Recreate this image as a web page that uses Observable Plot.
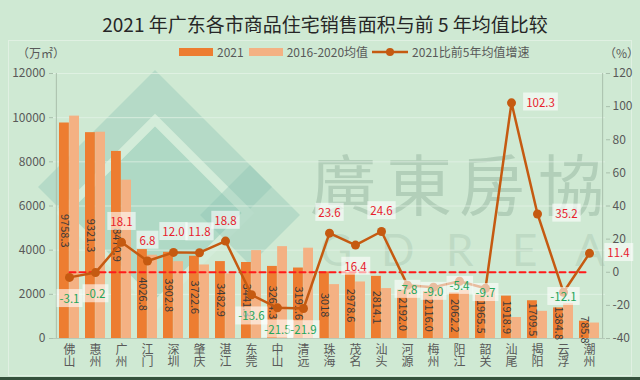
<!DOCTYPE html>
<html><head><meta charset="utf-8">
<script src="https://cdn.jsdelivr.net/npm/d3@7"></script>
<script src="https://cdn.jsdelivr.net/npm/@observablehq/plot@0.6"></script>
<style>
body{margin:0;background:#cfe9d3;font-family:"Noto Sans CJK SC","Noto Sans",sans-serif;}
#wrap{position:relative;width:640px;height:380px;overflow:hidden;background:#cfe9d3}
#wm,#chart,#panel{position:absolute;left:0;top:0}
#panel{left:8px;top:40px;width:624px;height:336px;border:1px solid rgba(255,255,255,0.35);box-sizing:border-box}
#title{position:absolute;left:0;width:650px;top:11px;text-align:center;font-size:19px;color:#262626;line-height:26px}
#legend{position:absolute;top:44px;left:179px;display:flex;align-items:center;font-size:12px;color:#595959;line-height:16px}
.sw{display:inline-block;width:34px;height:8px;margin-right:4px}
#unitL{position:absolute;left:17px;top:44px;font-size:12px;color:#595959}
#unitR{position:absolute;left:604px;top:44px;font-size:12px;color:#595959}
#bottom{position:absolute;left:0;top:377px;width:640px;height:3px;background:#35523c}
</style></head><body>
<div id="wrap">
<div id="panel"></div>
<svg id="wm" width="640" height="380">
  <polygon points="155,70 272,187 155,304 38,187" fill="#8cc2b2" fill-opacity="0.38"/>
  <polygon points="155,120 248,213 155,306 62,213" fill="#a9d8c4" fill-opacity="0.45" stroke="#d3ecd9" stroke-width="9"/>
  <polygon points="250,165 300,215 250,265 200,215" fill="#8cc2b2" fill-opacity="0.38"/>
  <text x="310 386 459 538" y="210" font-size="66" fill="#86a894" fill-opacity="0.4" font-family="Noto Sans CJK TC, Noto Sans CJK SC">廣東房協</text>
  <text x="320 381 446 512 575" y="266" font-size="44" fill="#9ab9a6" fill-opacity="0.33" font-family="Lato, DejaVu Sans">GDREA</text>
</svg>
<div id="chart"></div>
<div id="title">2021 年广东各市商品住宅销售面积与前 5 年均值比较</div>
<div id="unitL">（万㎡）</div>
<div id="unitR">（%）</div>
<div id="legend">
  <span class="sw" style="background:#ed7d31"></span><span>2021</span>
  <span class="sw" style="background:#f4b183;margin-left:5px"></span><span>2016-2020均值</span>
  <svg width="36" height="10" style="margin:0 4px"><line x1="0" y1="5" x2="36" y2="5" stroke="#c55a11" stroke-width="2.5"/><circle cx="18" cy="5" r="4" fill="#c55a11"/></svg><span>2021比前5年均值增速</span>
</div>
<div id="bottom"></div>
</div>
<script>
const cities = ["佛山","惠州","广州","江门","深圳","肇庆","湛江","东莞","中山","清远","珠海","茂名","汕头","河源","梅州","阳江","韶关","汕尾","揭阳","云浮","潮州"];
const area2021 = [9758.3,9321.3,8470.9,4026.8,3902.8,3722.6,3482.9,3441.3,3264.3,3191.6,3018.0,2978.6,2814.1,2192.0,2116.0,2062.2,1965.5,1918.9,1709.5,1384.8,785.8];
const area2021Text = ["9758.3","9321.3","8470.9","4026.8","3902.8","3722.6","3482.9","3441.3","3264.3","3191.6","3018","2978.6","2814.1","2192.0","2116.0","2062.2","1965.5","1918.9","1709.5","1384.8","785.8"];
const avg2016_2020 = [10070,9340,7170,3770,3480,3330,2930,3980,4160,4090,2440,2560,2260,2380,2330,2180,2180,950,1230,1580,700];
const growthPct = [-3.1,-0.2,18.1,6.8,12.0,11.8,18.8,-13.6,-21.5,-21.9,23.6,16.4,24.6,-7.8,-9.0,-5.4,-9.7,102.3,35.2,-12.1,11.4];
const labelPlace = ["below","below","above","above","above","above","above","below","below","below","above","below","above","center","center","center","center","right","right","center","right"];
const leftTicks = [0,2000,4000,6000,8000,10000,12000];
const rightTicks = [-40,-20,0,20,40,60,80,100,120];

const LEFT_MAX = 12000, R_MIN = -40, R_MAX = 120;
const toLeft = r => (r - R_MIN) / (R_MAX - R_MIN) * LEFT_MAX;
const fromLeft = v => Math.round(v / LEFT_MAX * (R_MAX - R_MIN) + R_MIN);

const rows = cities.map((c, i) => ({city: c, v: area2021[i], vt: area2021Text[i], a: avg2016_2020[i], g: growthPct[i], place: labelPlace[i]}));

const W = 640, H = 380, mL = 53, mR = 35;
const bw = (W - mL - mR) / cities.length;
const red = "#e8202c", green = "#23a55a", lineC = "#c55a11", axisC = "#595959";

const offs = {above: [0, -20], below: [0, 22], right: [29, 0], center: [0, 5]};
const rateMarks = Object.keys(offs).map(p => Plot.text(rows.filter(d => d.place === p), {
  x: "city", y: d => toLeft(d.g), text: d => d.g.toFixed(1),
  fill: d => d.g >= 0 ? red : green, dx: offs[p][0], dy: offs[p][1],
  fontSize: 11.5, ariaDescription: "rate"
}));

const chart = Plot.plot({
  width: W, height: H, marginLeft: mL, marginRight: mR, marginTop: 73, marginBottom: 42,
  style: {fontFamily: "'Noto Sans CJK SC','Noto Sans',sans-serif", fontSize: "12px", background: "transparent", color: axisC, overflow: "visible"},
  x: {type: "band", domain: cities, padding: 0},
  y: {domain: [0, LEFT_MAX]},
  marks: [
    Plot.gridY(leftTicks, {stroke: "#e6f4e8", strokeOpacity: 0.7}),
    Plot.ruleY([0], {stroke: "#b5c9b8"}),
    Plot.ruleX([cities[0]], {dx: -bw / 2, y1: 0, y2: LEFT_MAX, stroke: "#a9bfac"}),
    Plot.ruleX([cities[cities.length - 1]], {dx: bw / 2, y1: 0, y2: LEFT_MAX, stroke: "#a9bfac"}),
    Plot.axisY(leftTicks, {anchor: "left", tickSize: 4, tickPadding: 4, tickFormat: d => String(d), stroke: "#a9bfac", fill: axisC, fontSize: 12, label: null}),
    Plot.axisY(rightTicks.map(toLeft), {anchor: "right", tickSize: 4, tickPadding: 3, tickFormat: fromLeft, stroke: "#a9bfac", fill: axisC, fontSize: 12, label: null}),
    Plot.axisX({tickSize: 0, tickPadding: 7, tickFormat: d => d.split("").join("\n"), fill: axisC, fontSize: 12, label: null, lineHeight: 1.0}),
    Plot.barY(rows, {x: "city", y: "v", fill: "#ed7d31", insetLeft: 3, insetRight: bw / 2}),
    Plot.barY(rows, {x: "city", y: "a", fill: "#f4b183", insetLeft: bw / 2, insetRight: 3}),
    Plot.text(rows, {x: "city", y: d => d.v / 2, text: "vt", rotate: 90, dx: -(bw / 2 - (3 + bw / 2) / 2), fill: "#3a3a3a", fontSize: 11}),
    Plot.lineY(rows, {x: "city", y: () => toLeft(0), stroke: "#ff1a1a", strokeWidth: 2, strokeDasharray: "6,4"}),
    Plot.lineY(rows, {x: "city", y: d => toLeft(d.g), stroke: lineC, strokeWidth: 2.5}),
    Plot.dot(rows, {x: "city", y: d => toLeft(d.g), r: 4.5, fill: lineC}),
    ...rateMarks
  ]
});
document.getElementById("chart").append(chart);

chart.querySelectorAll("g[aria-description='rate'] text").forEach(t => {
  const bb = t.getBBox();
  const r = document.createElementNS("http://www.w3.org/2000/svg", "rect");
  r.setAttribute("x", bb.x - 3); r.setAttribute("y", bb.y - 1);
  r.setAttribute("width", bb.width + 6); r.setAttribute("height", bb.height + 2);
  r.setAttribute("fill", "#ffffff"); r.setAttribute("fill-opacity", "0.6");
  if (t.getAttribute("transform")) r.setAttribute("transform", t.getAttribute("transform"));
  t.parentNode.insertBefore(r, t);
});
</script>
</body></html>
